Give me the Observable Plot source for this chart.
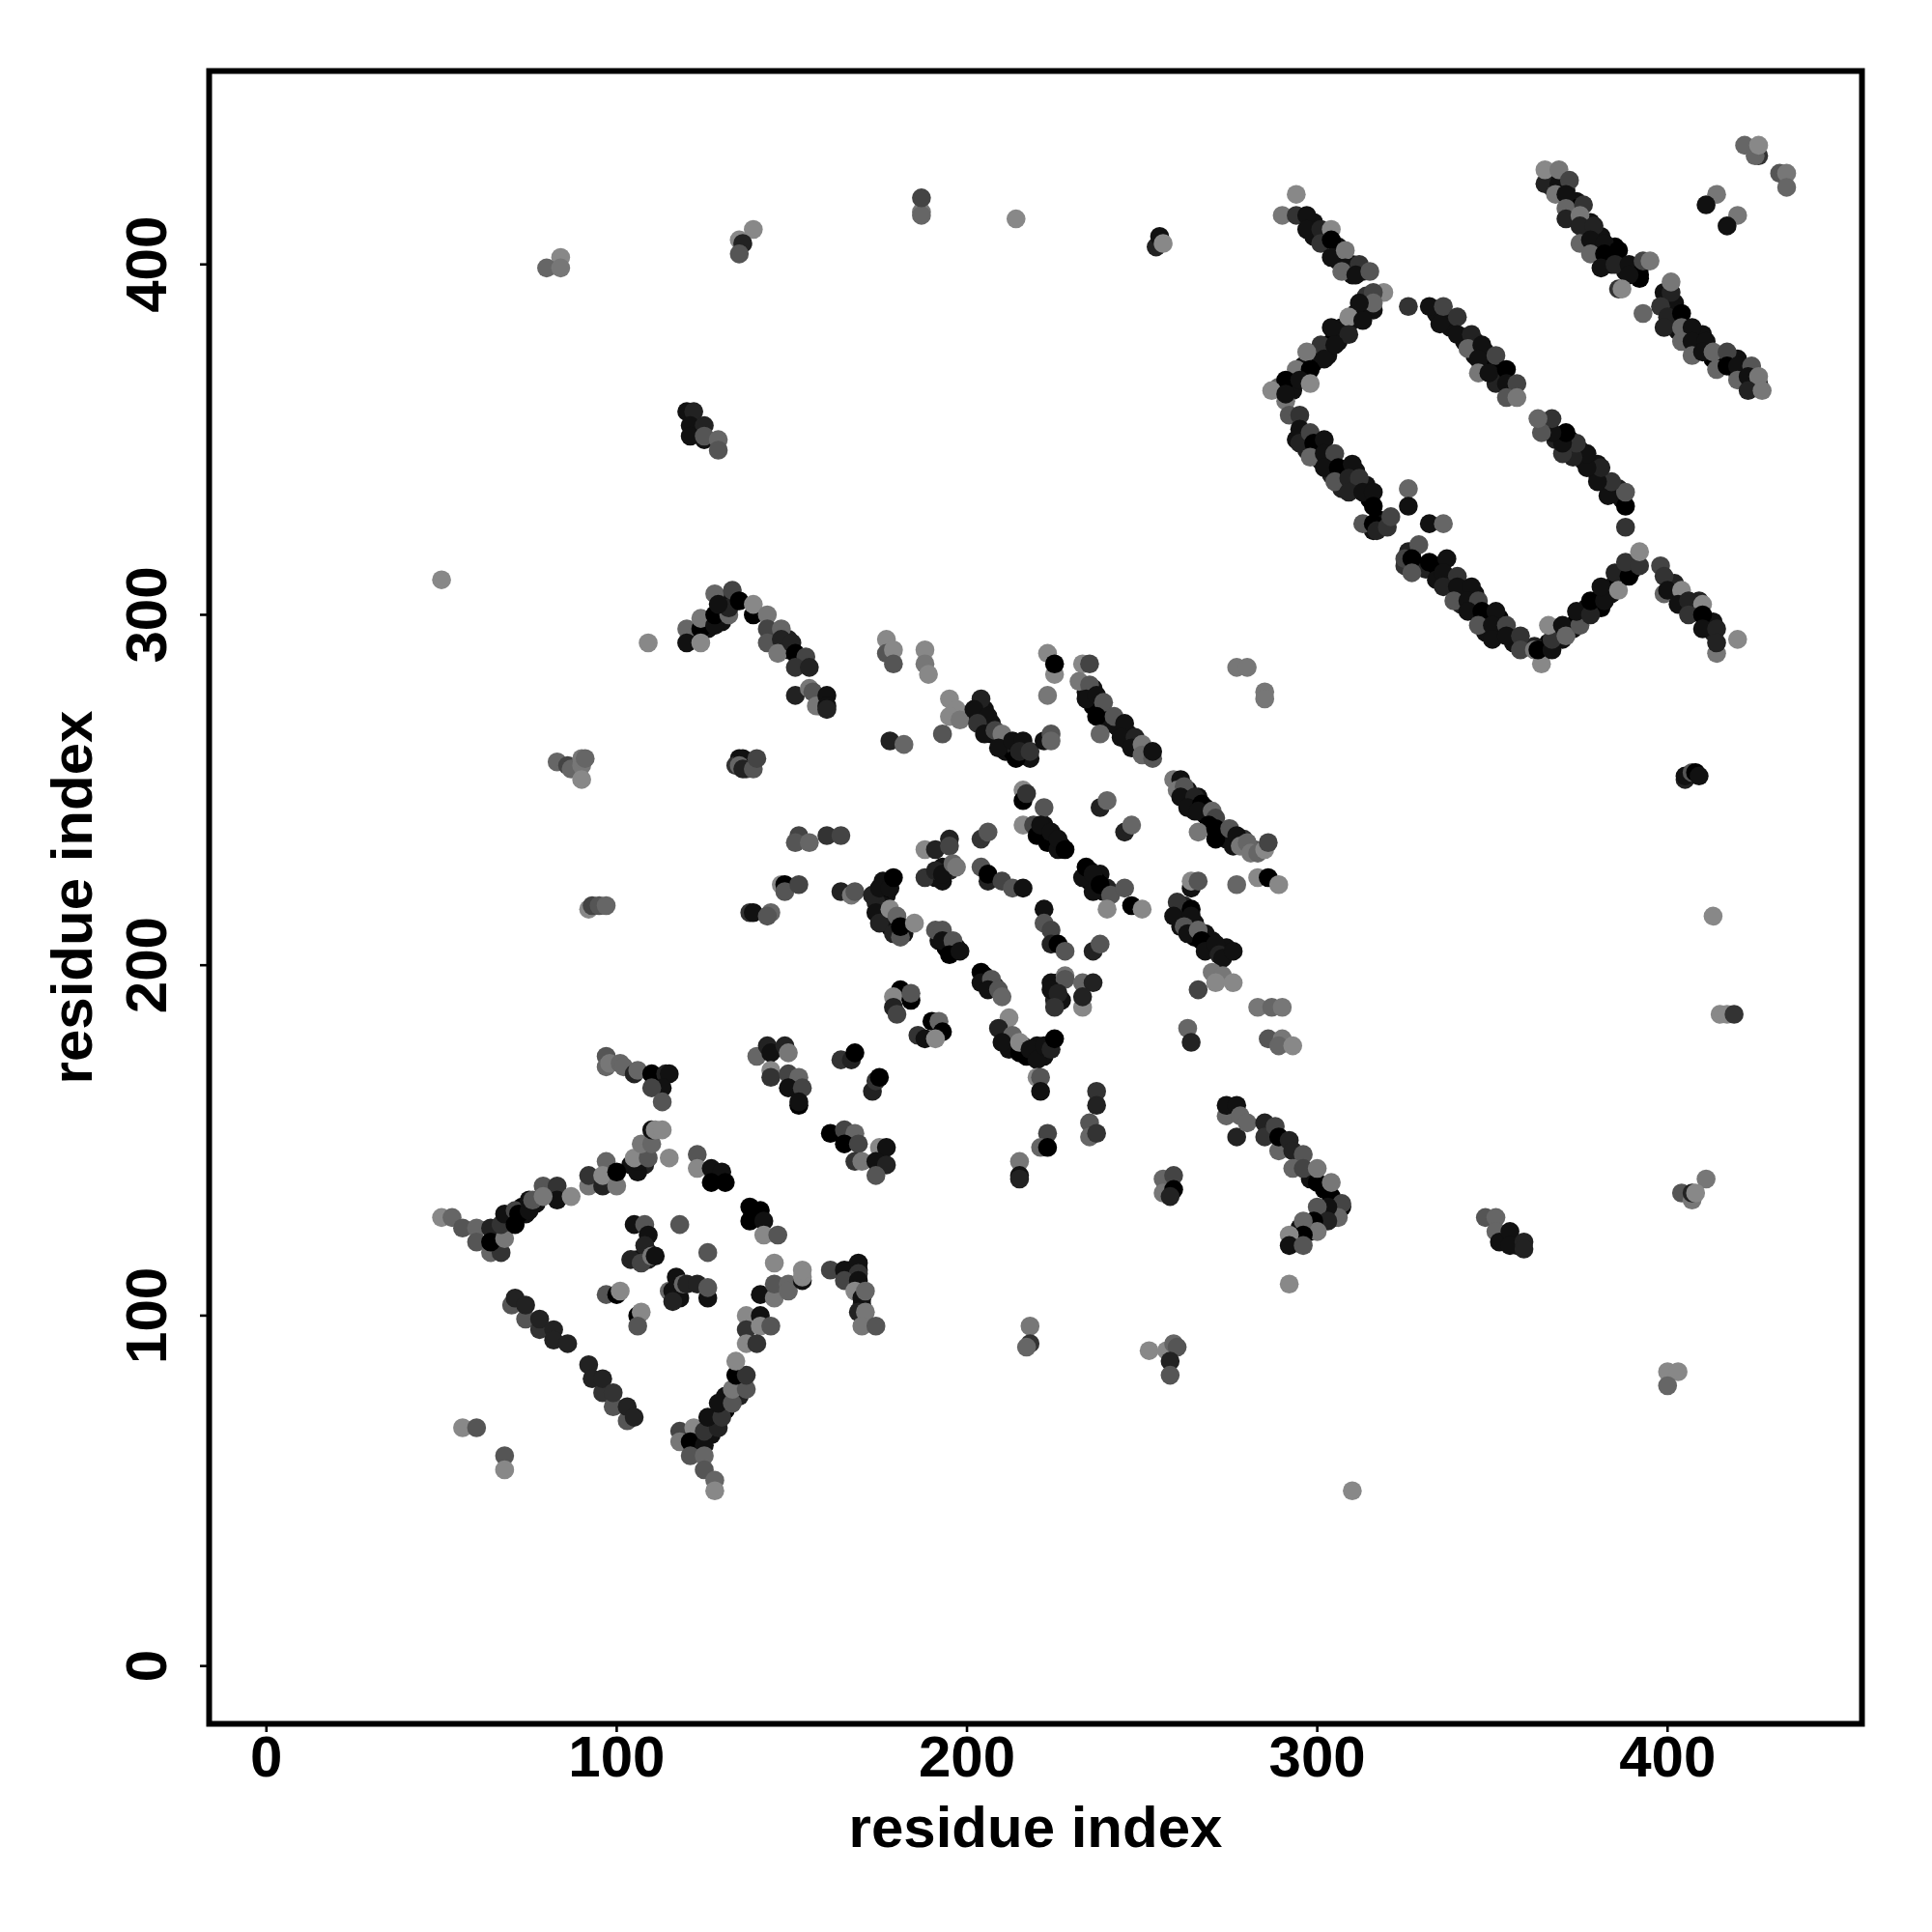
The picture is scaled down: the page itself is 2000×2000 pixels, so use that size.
<!DOCTYPE html>
<html><head><meta charset="utf-8">
<script src="https://cdn.jsdelivr.net/npm/d3@7"></script>
<script src="https://cdn.jsdelivr.net/npm/@observablehq/plot@0.6"></script>
<style>html,body{margin:0;padding:0;background:#fff}</style>
</head><body><div id="chart"></div>
<script>
// each point: [residue x, residue y, gray level 0 (black) .. 8 (#888)]
// points half hidden behind others in the dense bands
const hiddenBox=[[293,366,1],[296,371,1],[299,372,0],[300,375,1],[303,377,0],[305,380,0],[307,382,1],[309,383,1],[311,386,0],[313,387,0],[314,391,3],[306,378,1],[303,374,1],[295,369,0],[293,364,1],[289,365,6],[294,350,1],[297,351,1],[297,347,2],[300,347,1],[301,344,1],[304,344,0],[304,340,2],[307,340,1],[311,341,1],[311,337,1],[307,336,2],[315,333,0],[314,337,1],[318,327,0],[316,324,1],[319,326,1],[329,314,1],[331,313,2],[334,314,0],[334,310,1],[338,310,1],[342,306,1],[345,306,1],[341,303,2],[345,302,0],[349,299,1],[352,299,0],[348,295,1],[352,295,1],[356,292,1],[327,318,1],[325,314,3],[366,292,0],[370,293,1],[373,296,1],[374,298,0],[376,300,0],[377,302,1],[381,305,1],[381,302,0],[384,306,1],[385,309,1],[388,312,1],[386,310,0],[390,313,1],[362,291,2],[387,333,1],[383,337,1],[380,340,1],[376,344,1],[375,347,1],[372,347,0],[372,350,0],[369,351,1],[365,354,1],[368,350,2],[386,336,2],[380,343,1],[338,382,1],[342,378,1],[345,378,1],[348,375,1],[345,374,1],[347,371,1],[351,371,0],[352,368,1],[355,364,1],[351,366,2],[337,385,1],[334,386,1]];
const hiddenRight=[[367,425,0],[367,422,1],[371,421,1],[374,418,1],[374,416,0],[374,413,1],[378,409,0],[381,408,1],[381,404,1],[385,402,0],[385,405,0],[388,398,1],[392,396,0],[392,399,1],[384,400,1],[378,412,1],[402,389,1],[403,384,1],[403,381,1],[406,380,0],[410,377,0],[410,380,1],[413,373,0],[416,372,0],[420,369,0],[423,366,1],[420,373,1],[426,366,1],[402,387,1],[299,412,1],[299,408,1],[302,408,0],[306,405,1],[306,401,1],[310,400,1],[310,397,1],[313,398,1],[402,309,2],[403,306,0],[405,304,1],[409,301,1],[409,304,2],[413,298,1],[413,295,2]];
const hiddenChains=[[205,273,1],[207,269,1],[207,266,0],[209,265,1],[211,263,1],[211,261,1],[213,261,0],[216,260,0],[216,262,1],[218,259,1],[214,262,2],[204,271,2],[202,271,1],[236,279,1],[236,274,0],[239,272,1],[240,270,0],[243,268,1],[246,266,1],[246,264,1],[249,263,1],[252,260,1],[241,269,1],[234,278,1],[263,250,1],[264,247,0],[266,248,1],[268,243,0],[268,245,1],[270,241,0],[272,238,0],[274,236,1],[274,238,1],[279,236,3],[265,244,1],[282,233,5],[261,216,1],[262,214,0],[262,217,2],[265,212,1],[265,208,0],[268,209,1],[270,205,0],[270,207,1],[274,205,1],[261,211,1]];
const hiddenCentre=[[235,224,0],[235,227,1],[238,226,1],[239,221,1],[237,224,0],[240,222,2],[222,237,0],[225,235,1],[222,240,1],[227,234,0],[177,220,1],[176,224,1],[175,220,0],[177,214,1],[178,211,0],[179,212,1],[176,217,1],[174,218,2],[182,209,1],[191,225,1],[195,227,2],[193,228,1],[205,197,0],[206,195,1],[208,194,2],[226,195,1],[225,190,2],[227,190,1],[224,195,1],[192,207,1],[194,205,0],[197,205,1],[196,205,0],[212,178,1],[212,176,1],[216,177,2],[217,174,0],[221,175,0],[222,174,1],[223,177,0],[220,177,1]];
const hiddenLeft=[[122,294,0],[126,296,1],[126,298,1],[130,301,1],[131,304,1],[130,298,1],[149,293,2],[149,290,1],[153,286,1],[158,276,1],[158,274,2],[275,158,1],[276,159,1],[290,149,1],[291,148,0],[298,139,1],[302,129,0],[305,131,0],[305,128,1],[301,129,1],[298,124,0],[298,125,1],[294,122,0],[295,125,1],[302,136,0],[303,131,2],[66,123,1],[69,127,1],[70,128,0],[73,131,0],[74,129,1],[77,132,1],[81,135,1],[82,135,3],[104,143,1],[108,147,1],[108,143,2],[106,116,1],[109,118,1],[109,116,2],[118,108,1],[117,106,2],[118,105,1],[123,66,1],[127,66,1],[128,70,1],[131,73,0],[127,69,0],[131,77,1],[135,81,1],[135,77,2],[167,113,0],[167,111,1],[169,113,1],[170,103,2],[135,259,1],[137,258,2],[137,256,4],[354,122,1],[357,120,1]];
const leftArm=[[50,128,8],[53,128,6],[56,125,5],[60,125,6],[60,121,5],[64,118,6],[67,118,3],[64,125,2],[64,121,0],[68,122,7],[67,126,3],[68,129,1],[71,130,4],[71,126,0],[72,129,0],[75,130,1],[75,133,1],[76,133,5],[79,137,5],[83,137,3],[83,133,1],[79,134,7],[87,134,8],[92,137,7],[92,140,3],[96,137,2],[97,144,6],[96,140,8],[100,137,7],[100,141,0],[106,141,1],[106,144,1],[105,145,8],[109,145,5],[107,149,7],[110,149,6],[110,153,1],[111,153,8],[113,153,8],[115,145,8]];
const topBand=[[97,174,5],[97,171,6],[98,172,7],[101,172,6],[102,171,6],[105,169,2],[106,170,6],[110,169,0],[114,169,2],[115,169,1],[113,165,1],[110,165,4],[113,161,5]];
const midA=[[123,146,5],[123,142,8],[127,142,1],[130,141,1],[127,138,0],[131,138,0],[138,131,0],[141,130,0],[138,127,0],[142,127,1],[142,123,8],[146,123,5]];
const midB=[[140,174,6],[143,177,2],[144,175,1],[148,177,2],[149,175,7],[144,170,8],[144,168,3],[149,169,4],[152,168,6],[149,165,1],[153,165,4],[152,160,0],[152,161,1]];
const midC=[[164,173,3],[167,173,2],[168,175,0],[173,164,2],[174,167,3],[175,168,0]];
const midD=[[161,152,0],[165,153,4],[168,152,6],[165,149,0],[169,149,4],[168,144,3],[170,144,7],[175,148,8],[177,148,1],[174,144,1],[177,143,2],[174,140,5]];
const core=[[105,126,1],[108,126,5],[118,126,5],[109,123,1],[108,120,2],[126,118,5],[104,116,2],[107,115,4],[110,117,7],[111,117,1],[97,106,5],[100,106,0],[101,107,8],[115,107,6],[117,111,1],[116,107,1],[116,104,2],[119,109,6],[120,109,2],[123,109,2],[126,105,1],[126,108,5],[106,100,0],[107,101,8],[106,97,5]];
const lowerLeft=[[70,103,5],[71,105,2],[74,99,5],[74,103,2],[78,96,3],[78,99,2],[82,96,2],[82,93,2],[86,92,2],[92,86,2],[93,82,2],[96,78,3],[96,82,2],[99,74,5],[99,78,3],[103,70,5],[103,74,2],[105,71,2]];
const lowerRight=[[118,67,4],[118,64,7],[122,68,8],[121,64,0],[125,63,1],[125,67,3],[129,68,2],[126,71,1],[130,71,3],[129,75,1],[133,75,5],[133,79,7],[137,79,5],[134,83,0],[137,83,3],[134,87,8],[121,60,5],[125,60,6],[125,56,5],[128,53,6],[128,50,8],[137,100,8],[141,100,1],[137,96,3],[141,97,8],[144,97,5],[137,92,8],[140,92,3],[141,106,1],[145,105,7],[145,109,5],[149,109,6],[149,107,6],[153,110,1],[153,111,8],[153,113,8],[145,115,8]];
const rightHook=[[161,113,4],[165,113,1],[169,115,1],[169,112,3],[165,110,4],[169,110,1],[168,107,8],[170,105,1],[171,107,6],[169,101,2],[171,101,7],[170,97,7],[174,97,5]];
const smallLeft=[[56,68,8],[60,68,5],[68,60,5],[68,56,8]];
const peak=[[120,296,6],[120,292,1],[124,296,0],[124,299,7],[124,292,8],[128,297,1],[128,300,0],[132,300,6],[132,302,2],[128,306,6],[129,303,1],[133,307,4],[135,304,0],[139,300,0],[139,303,8],[143,300,7],[143,296,4],[143,292,5],[147,296,6],[147,293,2],[146,289,7],[150,292,2],[151,289,0],[154,288,4],[151,285,3],[155,285,2],[151,277,2],[155,279,7],[156,278,5],[157,274,7],[160,277,1],[160,274,1],[160,273,2]];
const topPairs=[[177,293,8],[177,289,5],[179,290,8],[179,286,5],[188,290,8],[188,286,7],[189,283,8],[223,289,8],[225,283,8],[225,286,0],[223,277,7],[195,276,8],[197,273,8],[195,271,8],[198,270,7],[193,266,5],[178,264,2],[182,263,6]];
const chainA=[[204,276,2],[202,273,1],[206,271,1],[203,269,3],[205,266,1],[208,267,4],[210,266,7],[209,262,1],[213,264,1],[216,264,1],[214,259,0],[215,261,2],[218,261,3],[222,264,1],[224,266,5],[224,264,6]];
const chainB=[[233,286,8],[235,286,4],[232,281,7],[235,280,5],[234,276,1],[237,277,1],[239,275,5],[237,271,0],[238,266,6],[242,271,5],[245,269,1],[244,265,1],[248,265,2],[247,262,1],[250,263,7],[250,260,6],[253,259,5],[253,261,1]];
const chainC=[[259,253,7],[261,253,1],[260,250,7],[262,251,5],[261,248,1],[265,248,2],[263,245,1],[267,246,0],[266,244,1],[270,244,6],[271,242,4],[269,240,0],[266,238,7],[271,236,0],[271,239,0],[275,239,5],[276,234,1],[277,237,1],[278,234,7],[280,235,6],[281,232,7],[283,232,6],[285,233,8],[286,235,4]];
const chainD=[[264,222,1],[264,224,8],[266,224,5],[277,223,6],[283,225,8],[286,225,0],[289,223,8]];
const chainE=[[260,218,3],[259,214,1],[264,216,0],[264,214,1],[262,211,5],[263,209,1],[266,210,6],[267,207,0],[268,204,1],[271,206,1],[272,203,2],[273,202,1],[276,204,1],[270,198,7],[273,197,7],[271,195,8],[276,195,8],[266,193,4],[283,188,7],[287,188,6],[290,188,7]];
const group152=[[152,237,4],[151,235,5],[155,235,6],[160,237,3],[164,237,4],[134,257,3],[136,259,1],[135,257,6],[136,256,2],[139,256,5],[140,259,4],[147,223,8],[148,223,0],[148,221,5],[152,223,4],[138,215,3],[139,215,1],[144,215,6],[143,214,5],[164,221,2],[167,220,7],[168,221,5]];
const groupV=[[173,220,2],[175,222,1],[178,222,1],[179,225,0],[174,215,1],[175,212,2],[178,216,8],[179,209,2],[180,214,6],[181,208,5],[181,211,0],[185,212,8]];
const group190=[[188,233,8],[191,233,2],[195,236,2],[195,234,4],[188,225,3],[193,224,1],[191,227,2],[193,226,1],[196,229,6],[197,228,7],[204,236,3],[206,238,5],[204,228,5],[206,224,2],[206,226,0],[210,224,4],[213,222,5],[216,222,1]];
const group216=[[216,250,8],[216,247,0],[217,249,3],[222,245,5],[238,245,2],[240,247,6],[245,238,2],[247,240,6],[216,240,8],[219,240,4],[220,237,0],[221,240,1],[223,235,0],[224,238,1],[226,233,1],[226,236,1],[228,233,0]];
const group234=[[233,225,1],[234,228,0],[236,221,1],[236,226,1],[238,223,0],[241,220,5],[245,222,5],[240,216,8],[247,217,0],[250,216,8]];
const group222=[[222,216,1],[222,212,5],[224,210,4],[224,206,2],[226,206,0],[228,204,5],[236,204,2],[238,206,5],[191,210,5],[193,210,5],[193,207,1],[196,207,5],[195,203,0],[198,204,1]];
const group204=[[204,198,0],[204,195,1],[207,196,5],[206,193,1],[209,193,5],[210,191,6],[228,197,7],[228,196,5],[224,193,1],[226,192,2],[225,188,3],[233,195,6],[236,195,2],[233,188,8],[233,191,2],[181,193,0],[179,191,8],[184,190,0],[184,192,5],[179,188,2],[180,186,4],[190,184,0],[192,184,6],[193,181,0],[186,180,3],[188,179,1],[191,179,8]];
const group212=[[212,185,8],[209,182,2],[213,180,6],[210,178,1],[215,175,0],[215,178,8],[218,176,1],[220,173,1],[222,177,1],[224,176,2],[225,179,0],[263,182,6],[264,178,2],[286,179,5],[290,179,7],[289,177,6],[293,177,8]];
const lowCenter=[[220,168,8],[221,168,5],[221,164,1],[237,164,3],[237,160,2],[235,155,5],[235,151,6],[237,152,3],[223,152,4],[221,148,6],[223,148,0],[215,144,7],[215,140,1],[215,139,2],[256,139,6],[259,140,4],[256,135,7],[259,136,0],[258,134,2],[218,97,7],[218,92,3],[217,91,6],[252,90,8],[257,90,8],[259,92,6],[260,91,5],[258,87,2],[258,83,5]];
const hookB=[[274,157,6],[274,160,1],[277,160,1],[278,157,6],[277,151,2],[280,155,6],[285,155,2],[285,151,3],[288,154,4],[289,147,6],[289,151,0],[292,150,2],[293,147,2],[296,146,5],[293,142,6],[296,142,4],[300,138,0],[300,142,7],[304,134,0],[304,138,7],[307,131,0],[307,132,4],[306,128,6],[303,131,1],[300,131,5],[303,127,2],[299,127,0],[300,124,7],[296,127,6],[296,123,0],[292,123,8],[292,120,1],[296,120,5],[292,109,8]];
const far=[[348,128,5],[351,128,6],[351,124,6],[352,121,1],[355,124,1],[355,120,1],[359,121,2],[359,119,2],[411,139,7],[404,135,5],[407,133,7],[407,135,2],[408,135,8],[400,84,8],[403,84,8],[400,80,6],[310,50,8]];
const topLeft=[[84,402,8],[80,399,6],[84,399,7],[139,410,8],[135,407,8],[136,406,2],[135,403,5],[187,415,7],[187,414,6],[187,419,4],[214,413,8],[120,358,1],[122,358,2],[121,354,1],[125,354,2],[121,351,1],[125,350,1],[125,351,5],[129,350,6],[129,347,5],[50,310,8],[109,292,8]];
const side=[[83,258,6],[86,257,4],[87,256,6],[90,257,7],[90,259,7],[91,259,6],[90,253,8],[92,216,8],[93,217,4],[95,217,5],[97,217,6],[405,253,2],[405,254,1],[407,255,5],[408,255,0],[409,254,1],[413,214,8],[415,186,8],[417,186,8],[419,186,3],[277,285,7],[280,285,7],[285,278,7],[285,276,7],[254,405,2],[255,408,1],[256,406,8]];
const topLine=[[294,420,8],[290,414,7],[294,414,3],[297,414,1],[297,410,1],[301,410,2],[304,410,8],[301,406,3],[304,407,0],[304,402,1],[308,404,7],[308,399,1],[307,398,6],[312,400,3],[311,397,1],[315,398,5]];
const boxNW=[[319,392,8],[316,392,4],[316,387,1],[316,389,6],[312,389,1],[309,385,8],[313,384,1],[304,382,1],[309,380,2],[301,377,3],[305,377,1],[297,375,7],[302,373,1],[294,370,7],[298,370,0],[291,367,0],[295,367,1],[298,366,8],[287,364,8],[291,361,7],[291,363,1]];
const boxSW=[[292,357,5],[295,357,3],[295,353,1],[295,349,2],[298,352,4],[299,349,0],[302,350,1],[298,345,6],[302,346,1],[305,346,4],[302,342,1],[306,342,0],[310,343,1],[305,338,5],[309,339,2],[312,339,3],[309,335,2],[313,335,1],[316,335,1],[316,331,0],[326,336,6],[326,331,1],[313,326,5],[316,326,0],[317,324,2],[320,325,3],[321,328,4],[332,326,1],[336,326,6]];
const boxS=[[326,318,2],[329,320,5],[325,316,4],[327,316,0],[327,312,5],[332,315,0],[337,316,1],[336,312,1],[340,311,3],[336,308,2],[340,308,1],[344,308,1],[339,304,5],[343,304,1],[346,304,4],[343,301,1],[347,301,0],[351,301,1],[346,297,5],[350,297,1],[354,297,4],[350,293,1],[354,294,1],[358,294,3],[358,290,4]];
const boxSE=[[362,290,7],[364,286,8],[363,290,0],[367,290,1],[367,293,3],[366,297,8],[370,297,1],[371,294,6],[375,297,5],[374,301,1],[378,300,2],[378,304,0],[382,304,1],[381,308,1],[385,312,2],[386,307,8],[389,311,0],[388,315,3],[392,314,3],[392,318,8]];
const boxNE=[[388,325,3],[388,331,0],[383,334,1],[388,335,5],[384,338,3],[380,338,1],[381,342,2],[377,342,1],[377,346,1],[373,345,2],[374,349,3],[370,346,3],[370,349,1],[371,352,0],[367,352,1],[367,356,3],[364,352,5],[363,356,6]];
const boxTop=[[326,388,3],[332,388,1],[335,383,1],[336,388,4],[340,385,3],[340,380,1],[344,380,2],[343,376,6],[347,377,1],[346,373,1],[351,374,4],[346,369,7],[349,369,1],[354,370,0],[354,366,1],[357,366,4],[354,362,5],[357,362,7]];
const rightBand=[[365,423,2],[365,427,8],[369,423,1],[369,427,7],[372,424,4],[368,420,7],[371,420,1],[371,416,6],[371,413,2],[376,417,3],[375,414,7],[375,411,2],[379,411,2],[375,406,6],[378,407,1],[382,406,1],[378,403,6],[382,403,0],[386,404,0],[381,399,1],[385,400,2],[389,400,1],[392,397,0],[389,397,1],[393,401,4],[395,401,7],[386,393,3],[387,393,8]];
const rightBand2=[[393,386,6],[399,392,1],[401,392,2],[401,395,7],[398,388,3],[400,385,2],[404,386,0],[399,382,2],[404,382,6],[407,382,1],[404,378,6],[407,378,1],[411,378,1],[407,374,6],[410,375,1],[413,375,6],[417,375,4],[414,370,6],[417,371,0],[420,371,1],[424,371,5],[420,367,6],[423,368,1],[426,368,7],[423,364,2],[427,364,7]];
const corner=[[422,434,6],[426,431,3],[425,431,6],[426,434,8],[432,426,5],[434,426,7],[434,422,6],[414,420,7],[411,417,1],[420,414,7],[417,411,1]];
const lowerBox=[[398,314,4],[399,311,3],[399,306,6],[400,307,1],[404,307,8],[403,303,1],[406,304,2],[410,303,8],[406,300,3],[410,300,0],[410,296,1],[414,296,2],[414,289,7],[414,292,2],[420,293,8]];

const rows=[hiddenBox,hiddenRight,hiddenChains,hiddenCentre,hiddenLeft,leftArm,topBand,midA,midB,midC,midD,core,lowerLeft,lowerRight,rightHook,smallLeft,peak,topPairs,chainA,chainB,chainC,chainD,chainE,group152,groupV,group190,group216,group234,group222,group204,group212,lowCenter,hookB,far,topLeft,side,topLine,boxNW,boxSW,boxS,boxSE,boxNE,boxTop,rightBand,rightBand2,corner,lowerBox].flat();
const ticks=[0,100,200,300,400];
const gray=g=>{const v=g*17;return `rgb(${v},${v},${v})`;};

const chart=Plot.plot({
  width:2000,height:2000,
  marginLeft:216,marginRight:73,marginTop:73,marginBottom:216,
  x:{domain:[-16.35,455.5]},
  y:{domain:[-16.5,455.2]},
  color:{type:"identity"},
  style:{fontFamily:"'Liberation Sans',Arial,sans-serif",background:"#fff"},
  marks:[
    Plot.dot(rows,{x:d=>d[0],y:d=>d[1],r:9.8,fill:d=>gray(d[2]),stroke:"none"}),
    Plot.frame({stroke:"#000",strokeWidth:6}),
    Plot.axisX({ticks,tickSize:9,tickPadding:3,strokeWidth:2.6,fontSize:60,fontWeight:"bold",label:"residue index",labelAnchor:"center",labelArrow:"none",labelOffset:127}),
    Plot.axisY({ticks,tickSize:9,tickPadding:36,strokeWidth:2.6,tickRotate:-90,textAnchor:"middle",fontSize:60,fontWeight:"bold",label:"residue index",labelAnchor:"center",labelArrow:"none",labelOffset:164})
  ]
});
document.getElementById("chart").appendChild(chart);
</script></body></html>
